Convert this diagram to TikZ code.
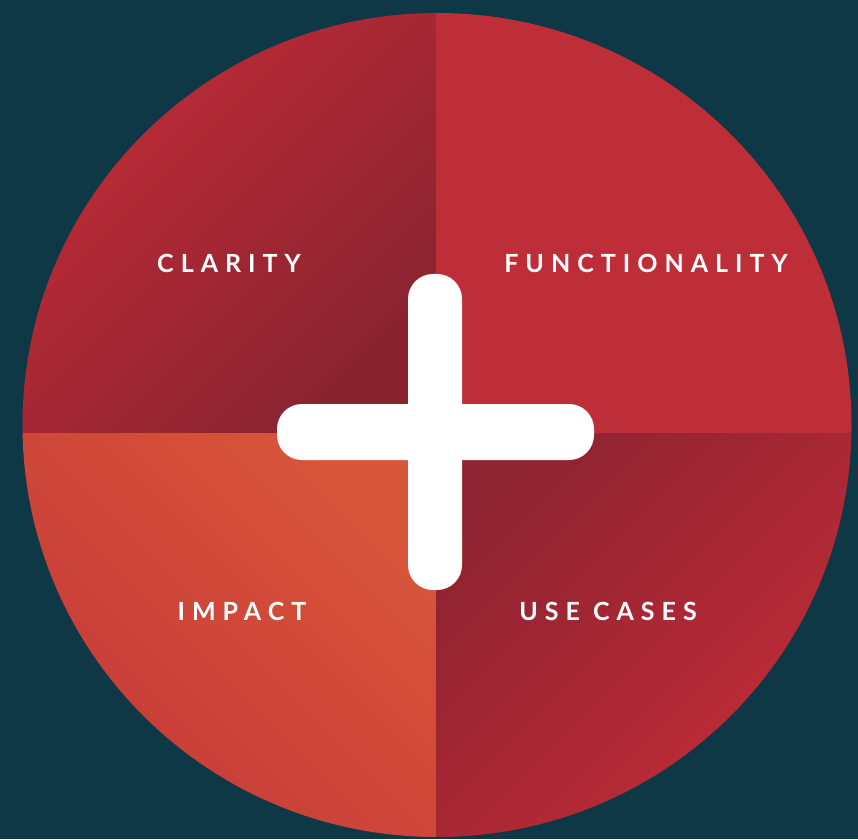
\documentclass[tikz,border=0pt]{standalone}
\usepackage{fontspec}
\setmainfont{Lato}[LetterSpace=28]
\definecolor{bg}{RGB}{15,56,70}
\definecolor{redTR}{RGB}{189,46,57}
\definecolor{tlLight}{RGB}{196,44,56}
\definecolor{tlDark}{RGB}{136,35,48}
\definecolor{brDark}{RGB}{142,35,49}
\definecolor{brLight}{RGB}{196,44,56}
\definecolor{blLight}{RGB}{217,85,58}
\definecolor{blDark}{RGB}{196,56,56}
\tikzset{
  lab/.style={text=white, font=\bfseries\fontsize{25}{25}\selectfont, anchor=base},
  bar/.style={fill=white, rounded corners=25pt}
}
\begin{document}
\begin{tikzpicture}[x=1pt,y=1pt]
\fill[bg] (0,0) rectangle (858,839);
\useasboundingbox (0,0) rectangle (858,839);
\begin{scope}
\clip (437,414) ellipse [x radius=414.5, y radius=412];
\shade[top color=tlLight, bottom color=tlDark, shading angle=45] (0,406) rectangle (436,839);
\fill[redTR] (436,406) rectangle (858,839);
\shade[top color=blLight, bottom color=blDark, shading angle=-45] (0,0) rectangle (436,406);
\shade[top color=brDark, bottom color=brLight, shading angle=45] (436,0) rectangle (858,406);
\end{scope}
\fill[bar] (408,249) rectangle (462,565);
\fill[bar] (277,379) rectangle (594,435);
\node[lab] (clarity) at (229,566) {CLARITY};
\node[lab] (func) at (646,566) {FUNCTIONALITY};
\node[lab] (impact) at (242,219) {IMPACT};
\node[lab] (use) at (608,219) {USE CASES};
\end{tikzpicture}
\end{document}
